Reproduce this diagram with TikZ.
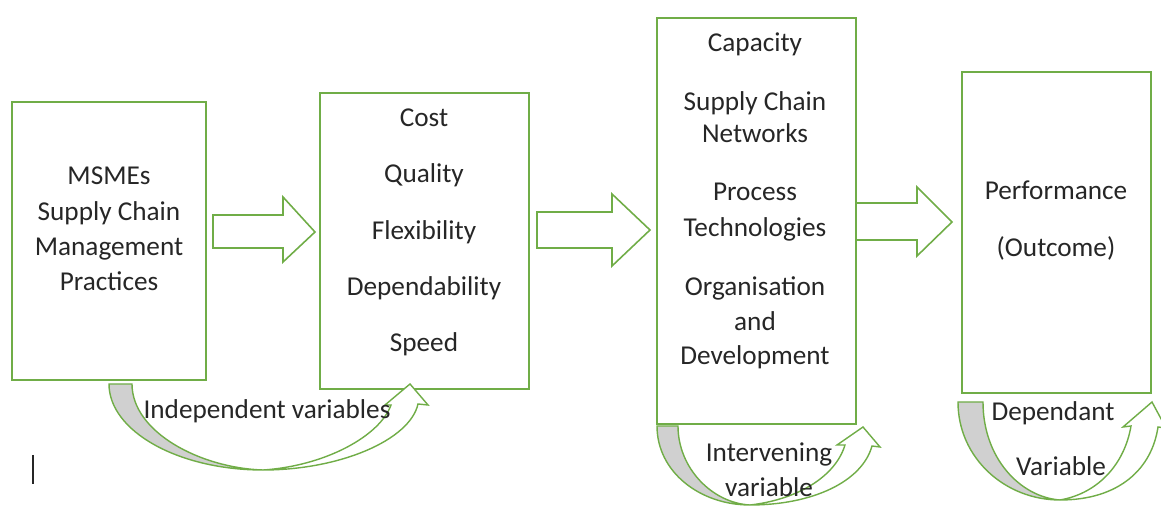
\documentclass[tikz,border=0pt]{standalone}
\usepackage{fontspec}
\setmainfont{Carlito}
\usepackage{xcolor}
\usetikzlibrary{fit}

\definecolor{leaf}{HTML}{70AD47}
\definecolor{shade}{HTML}{D0D0D0}
\definecolor{ink}{HTML}{262626}

\tikzset{
    varbox/.style={draw=leaf, line width=0.9pt, inner sep=0pt},
    blockarrow/.style={draw=leaf, line width=0.9pt, fill=white, line join=miter},
    curveback/.style={draw=leaf, line width=0.8pt, fill=shade},
    curvefront/.style={draw=leaf, line width=0.8pt, fill=white, line join=miter},
    lbl/.style={text=ink, font=\fontsize{15.5}{19.9}\selectfont, inner sep=0pt,
                text height=0.64em, text depth=0pt, yshift=-0.08cm},
}

\begin{document}
\begin{tikzpicture}[x=0.02cm, y=-0.02cm]
            \clip (0,0) rectangle (1161,506);

            % the four boxes
            \node[varbox, fit={(12,102) (206,380)}]  (practices) {};
            \node[varbox, fit={(320,93) (529,389)}]  (priorities) {};
            \node[varbox, fit={(657,18) (856,424)}]  (decisions) {};
            \node[varbox, fit={(962,72) (1151,393)}] (performance) {};

            % block arrows between the boxes
            \draw[blockarrow] (213,215) -- (283,215) -- (283,197) -- (315,232)
                -- (283,262) -- (283,248) -- (213,248) -- cycle;
            \draw[blockarrow] (537,212) -- (612,212) -- (612,194) -- (650,230)
                -- (612,266) -- (612,248) -- (537,248) -- cycle;
            \draw[blockarrow] (856,203) -- (917,203) -- (917,187) -- (952,222)
                -- (917,256) -- (917,240) -- (856,240) -- cycle;

            % curved arrows under the boxes
            \draw[curveback] (109,384) .. controls (109,431) and (178,470) .. (263,470)
                .. controls (200,468) and (132,432) .. (132,384) -- cycle;
            \draw[curvefront] (263,470) .. controls (340,470) and (410,440) .. (418,404)
                -- (428,405) -- (410,384) -- (385,405) -- (391,405)
                .. controls (380,436) and (325,466) .. (263,470) -- cycle;

            \draw[curveback] (657,426) .. controls (657,472) and (700,505) .. (750,505)
                .. controls (712,503) and (678,468) .. (678,426) -- cycle;
            \draw[curvefront] (750,505) .. controls (812,505) and (862,482) .. (872,446)
                -- (880,447) -- (863,427) -- (837,445) -- (845,445)
                .. controls (835,478) and (795,500) .. (750,505) -- cycle;

            \draw[curveback] (958,402) .. controls (958,458) and (1005,500) .. (1060,500)
                .. controls (1020,497) and (983,458) .. (983,402) -- cycle;
            \draw[curvefront] (1060,500) .. controls (1120,500) and (1152,468) .. (1158,427)
                -- (1166,428) -- (1152,402) -- (1123,427) -- (1131,426)
                .. controls (1125,462) and (1100,493) .. (1060,500) -- cycle;

            % box texts
            \foreach \txt/\y [count=\i] in {MSMEs/175, Supply Chain/211, Management/246, Practices/281}
                \node[lbl] (p\i) at (109,\y) {\txt};
            \foreach \txt/\y [count=\i] in {Cost/117, Quality/173, Flexibility/230, Dependability/286, Speed/342}
                \node[lbl] (c\i) at (424,\y) {\txt};
            \foreach \txt/\y [count=\i] in {Capacity/42, Supply Chain/101, Networks/133, Process/191,
                    Technologies/227, Organisation/286, and/321, Development/355}
                \node[lbl] (d\i) at (755,\y) {\txt};
            \node[lbl] (perf) at (1056,190) {Performance};
            \node[lbl] (outc) at (1056,247) {(Outcome)};

            % variable labels
            \node[lbl] (indep)   at (267,409) {Independent variables};
            \node[lbl] (interv1) at (769,452) {Intervening};
            \node[lbl] (interv2) at (769,487) {variable};
            \node[lbl] (dep1)    at (1053,411) {Dependant};
            \node[lbl] (dep2)    at (1061,466) {Variable};

            \draw[ink, line width=1.1pt] (33,455) -- (33,484);
        \end{tikzpicture}
\end{document}
